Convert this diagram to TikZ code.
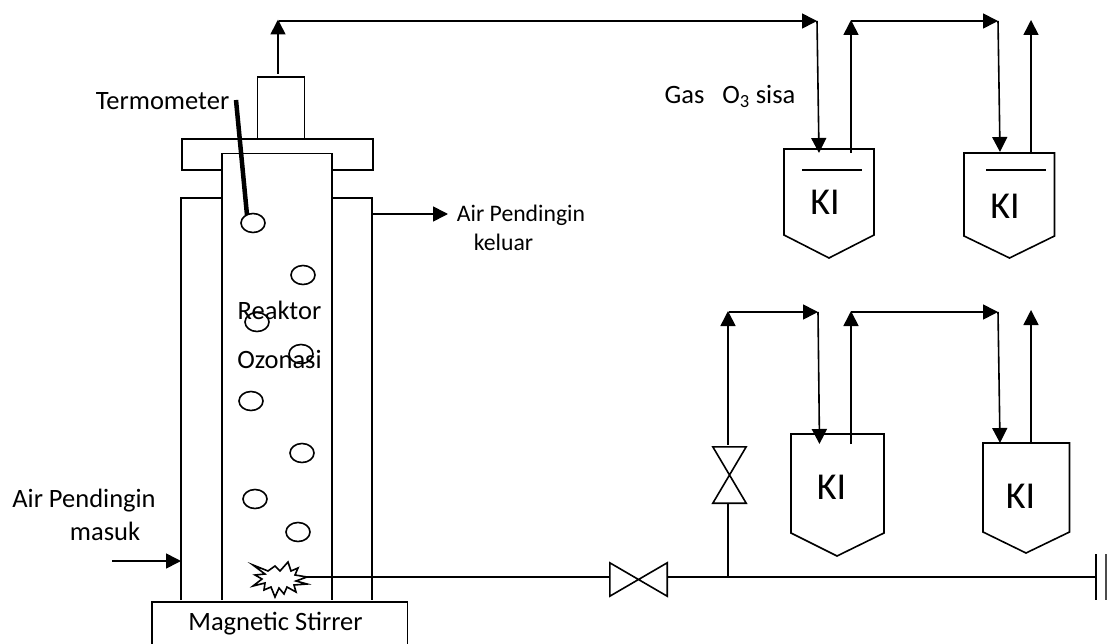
\documentclass[tikz,border=0pt]{standalone}
\usepackage{fontspec}
\setmainfont{Carlito}
\usetikzlibrary{arrows.meta, shapes.geometric}

\tikzstyle{wall} = [draw = black, line width = 1.6pt]
\tikzstyle{box} = [rectangle, draw = black, line width = 1.6pt, inner sep = 0pt, anchor = north west]
\tikzstyle{bubble} = [ellipse, draw = black, line width = 1.6pt, minimum width = 24pt, minimum height = 19pt, inner sep = 0pt]
\tikzstyle{txt} = [inner sep = 0pt, anchor = base, font = \fontsize{26.5}{28}\selectfont]
\tikzstyle{smalltxt} = [inner sep = 0pt, anchor = base, font = \fontsize{23.7}{26}\selectfont]
\tikzstyle{bigtxt} = [inner sep = 0pt, font = \fontsize{38}{40}\selectfont]
\tikzstyle{arrow} = [line width = 1.6pt, -{Triangle[length = 15pt, width = 15pt]}, draw = black]
\tikzstyle{line} = [line width = 1.6pt, -, draw = black]

% one KI flask: name, left, top, right, shoulder, tip x, tip y
\newcommand{\flask}[7]{
    \draw[wall] (#2, #3) -- (#4, #3) -- (#4, #5) -- (#6, #7) -- (#2, #5) -- cycle;
    \coordinate (#1) at (#6, #3);
}

\begin{document}
\begin{tikzpicture}[x = 1pt, y = -1pt]
    \useasboundingbox (0, 0) rectangle (1107, 644);
    \clip (0, 0) rectangle (1107, 644);

    % reactor
    \node(top_box)[box, minimum width = 47pt, minimum height = 61.5pt] at (256.7, 76.5) {};
    \node(flange)[box, minimum width = 191pt, minimum height = 31.5pt] at (181, 138) {};
    \draw[wall, fill = white] (222, 600) -- (222, 153.5) -- (332, 153.5) -- (332, 600);
    \draw[wall] (181, 600) -- (181, 198) -- (222, 198);
    \draw[wall] (332, 198) -- (372, 198) -- (372, 600);
    \node(stirrer)[box, minimum width = 255.5pt, minimum height = 60pt, line width = 1.9pt] at (151, 601) {};
    \node(stirrer_txt)[txt] at (275.5, 630) {Magnetic Stirrer};

    % bubbles
    \foreach \name/\x/\y in {b1/253/223, b2/303/275, b3/257/322, b4/301/354, b5/251/401, b6/302/453, b7/255/499, b8/298/532}
        \node(\name)[bubble] at (\x, \y) {};
    \node(reaktor)[txt] at (279.5, 319) {Reaktor};
    \node(ozonasi)[txt] at (279.5, 368) {Ozonasi};

    % thermometer
    \node(termometer)[txt] at (162.5, 110) {Termometer};
    \coordinate (term_top) at (236, 100);
    \coordinate (term_end) at (247, 215);
    \draw[line, line width = 4.5pt] (term_top) -- (term_end);

    % stirrer bar
    \draw[wall] (253, 565) -- (268, 571) -- (275, 566) -- (280, 571) -- (288, 562) -- (291, 571) -- (298, 568) -- (295, 575) -- (307, 577) -- (296, 581) -- (307, 584) -- (294, 585) -- (296, 592) -- (287, 587) -- (284, 594) -- (279, 588) -- (275, 597) -- (271, 587) -- (264, 590) -- (265, 583) -- (253, 586) -- (262, 579) -- (255, 575) -- (265, 574) -- cycle;
    \coordinate (stir) at (305, 577);

    % cooling water
    \coordinate (water_in) at (112, 561);
    \coordinate (jacket_in) at (181, 561);
    \coordinate (jacket_out) at (372, 214);
    \coordinate (water_out) at (448, 214);
    \draw[arrow] (water_in) -- (jacket_in);
    \draw[arrow] (jacket_out) -- (water_out);
    \node(air_out)[smalltxt] at (521, 222) {Air Pendingin};
    \node(keluar)[smalltxt] at (503.5, 251) {keluar};
    \node(air_in)[txt] at (84, 507) {Air Pendingin};
    \node(masuk)[txt] at (105, 540) {masuk};
    \node(gas)[txt] at (730, 104) {Gas\ \ \ O\textsubscript{3} sisa};

    % flasks
    \flask{k1}{784}{149}{874}{235}{829}{258}
    \flask{k2}{964}{153}{1054.5}{236}{1009.5}{258}
    \flask{k3}{791}{434}{884}{533}{837}{556}
    \flask{k4}{983}{443}{1069.5}{532}{1026}{553}
    \draw[line] (802, 170) -- (862, 170);
    \draw[line] (986, 170) -- (1046, 170);
    \node(ki1)[bigtxt] at (825, 202.5) {KI};
    \node(ki2)[bigtxt] at (1005, 206.5) {KI};
    \node(ki3)[bigtxt] at (831.5, 487.5) {KI};
    \node(ki4)[bigtxt] at (1020.5, 496.5) {KI};

    % upper pipes
    \draw[arrow] (278, 74) -- (278, 19.5);
    \draw[arrow] (279, 21) -- (817, 21);
    \draw[arrow] (817, 21) -- (819, 153);
    \draw[arrow] (851, 153) -- (851, 20);
    \draw[arrow] (851, 21) -- (998, 21);
    \draw[arrow] (998, 21) -- (1000, 152);
    \draw[arrow] (1031, 152) -- (1031, 20);

    % lower pipes
    \node(valve_main) at (638.5, 579.5) [inner sep = 0pt, minimum width = 57pt, minimum height = 33pt] {};
    \draw[wall] (valve_main.south west) -- (valve_main.north east) -- (valve_main.south east) -- (valve_main.north west) -- cycle;
    \node(valve_up) at (729.5, 475) [inner sep = 0pt, minimum width = 33pt, minimum height = 56pt] {};
    \draw[wall] (valve_up.north west) -- (valve_up.north east) -- (valve_up.south west) -- (valve_up.south east) -- cycle;
    \coordinate (line_end) at (1096, 577);
    \coordinate (branch) at (728, 577);
    \draw[line] (stir) -- (valve_main.west |- stir);
    \draw[line] (valve_main.east |- stir) -- (line_end);
    \draw[line] (branch) -- (branch |- valve_up.south);
    \draw[arrow] (728, 445) -- (728, 311);
    \draw[arrow] (729, 312) -- (818, 312);
    \draw[arrow] (818, 312) -- (819.5, 444);
    \draw[arrow] (851, 444) -- (851, 311);
    \draw[arrow] (851, 312) -- (998, 312);
    \draw[arrow] (998, 312) -- (1000, 443);
    \draw[arrow] (1031, 443) -- (1031, 310);

    % end of the line
    \draw[line, line width = 2pt] (1096, 554) -- (1096, 600);
    \draw[line, draw = black!70] (1106, 554) -- (1106, 600);
\end{tikzpicture}
\end{document}
